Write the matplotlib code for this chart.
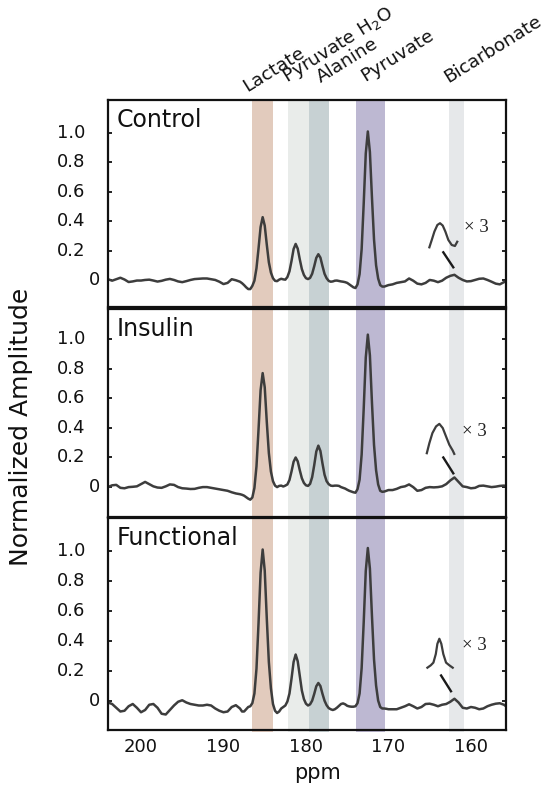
import numpy as np
import matplotlib
matplotlib.use('Agg')
import matplotlib.pyplot as plt

# chemical shift grid (ppm), finer sampling around the metabolite peaks
ppm_left = np.linspace(204.0, 188.5, 32)
ppm_mid = np.linspace(188.0, 170.0, 73)
ppm_right = np.linspace(169.5, 155.5, 29)
ppm = np.concatenate([ppm_left, ppm_mid, ppm_right])

# normalized amplitudes, one set per panel
control_left = [0.005, -0.005, 0.005, 0.015, 0.003, -0.014, -0.010, -0.004,
                -0.004, 0.000, 0.002, -0.004, -0.011, -0.006, 0.002, 0.007,
                0.000, -0.010, -0.015, -0.008, 0.000, 0.006, 0.008, 0.010,
                0.010, 0.005, 0.000, -0.012, -0.028, -0.020, 0.005, -0.002]
control_mid = [-0.012, -0.022, -0.035, -0.050, -0.062, -0.062, -0.040, -0.005,
               0.080, 0.215, 0.360, 0.427, 0.370, 0.240, 0.120, 0.050,
               0.012, -0.006, -0.008, 0.002, 0.008, 0.004, 0.002, 0.020,
               0.059, 0.130, 0.210, 0.245, 0.213, 0.140, 0.074, 0.034,
               0.012, 0.006, 0.014, 0.042, 0.093, 0.150, 0.175, 0.152,
               0.095, 0.042, 0.012, -0.006, -0.012, -0.010, -0.005, -0.004,
               -0.007, -0.010, -0.012, -0.015, -0.020, -0.030, -0.040, -0.050,
               -0.055, -0.030, 0.040, 0.210, 0.520, 0.860, 1.010, 0.870,
               0.560, 0.275, 0.100, 0.010, -0.035, -0.045, -0.045, -0.040,
               -0.035]
control_right = [-0.030, -0.020, -0.015, -0.010, 0.010, -0.005, -0.025, -0.030,
                 -0.020, 0.000, -0.005, -0.015, -0.005, 0.015, 0.028, 0.035,
                 0.015, 0.000, -0.010, -0.008, 0.000, 0.008, 0.010, 0.000,
                 -0.012, -0.025, -0.030, -0.015, -0.005]

insulin_left = [0.000, 0.012, 0.015, -0.005, -0.008, 0.000, 0.002, 0.005,
                0.020, 0.035, 0.020, 0.005, -0.003, -0.005, 0.005, 0.018,
                0.015, 0.000, -0.008, -0.010, -0.013, -0.012, -0.005, 0.000,
                0.000, -0.005, -0.010, -0.015, -0.020, -0.025, -0.035, -0.043]
insulin_mid = [-0.048, -0.052, -0.058, -0.068, -0.078, -0.085, -0.070, -0.006,
               0.140, 0.390, 0.655, 0.770, 0.675, 0.440, 0.230, 0.105,
               0.040, 0.010, 0.000, 0.008, 0.010, 0.004, 0.010, 0.018,
               0.048, 0.106, 0.171, 0.200, 0.174, 0.114, 0.060, 0.028,
               0.012, 0.008, 0.022, 0.067, 0.148, 0.240, 0.280, 0.244,
               0.160, 0.084, 0.040, 0.020, 0.010, 0.008, 0.010, 0.010,
               0.008, 0.000, -0.005, -0.010, -0.018, -0.025, -0.030, -0.035,
               -0.038, -0.014, 0.050, 0.220, 0.530, 0.875, 1.030, 0.890,
               0.570, 0.285, 0.114, 0.018, -0.025, -0.032, -0.030, -0.025,
               -0.020]
insulin_right = [-0.020, -0.012, 0.000, 0.005, 0.018, 0.000, -0.025, -0.020,
                 -0.005, 0.000, -0.002, 0.000, 0.005, 0.020, 0.045, 0.065,
                 0.035, 0.005, 0.000, -0.008, -0.005, 0.008, 0.010, 0.005,
                 0.000, 0.003, 0.008, 0.010, 0.005]

functional_left = [-0.010, -0.020, -0.045, -0.070, -0.065, -0.035, -0.020, -0.045,
                   -0.075, -0.060, -0.025, -0.020, -0.045, -0.085, -0.090, -0.060,
                   -0.030, -0.005, 0.005, -0.010, -0.020, -0.025, -0.030, -0.030,
                   -0.025, -0.030, -0.050, -0.065, -0.075, -0.070, -0.040, -0.028]
functional_mid = [-0.050, -0.070, -0.070, -0.055, -0.040, -0.035, -0.014, 0.050,
                  0.215, 0.520, 0.855, 1.010, 0.870, 0.550, 0.260, 0.085,
                  -0.020, -0.065, -0.080, -0.070, -0.050, -0.040, -0.030, -0.003,
                  0.050, 0.150, 0.260, 0.310, 0.265, 0.165, 0.070, 0.013,
                  -0.018, -0.030, -0.022, 0.002, 0.047, 0.098, 0.120, 0.100,
                  0.048, 0.002, -0.028, -0.047, -0.055, -0.060, -0.055, -0.045,
                  -0.032, -0.020, -0.016, -0.022, -0.032, -0.036, -0.038, -0.038,
                  -0.035, -0.014, 0.050, 0.220, 0.525, 0.867, 1.020, 0.883,
                  0.566, 0.277, 0.103, 0.003, -0.040, -0.050, -0.050, -0.052,
                  -0.055]
functional_right = [-0.055, -0.055, -0.045, -0.035, -0.022, -0.035, -0.050, -0.040,
                    -0.020, -0.018, -0.025, -0.035, -0.025, -0.020, -0.005, 0.015,
                    -0.010, -0.045, -0.050, -0.040, -0.045, -0.055, -0.050, -0.035,
                    -0.025, -0.018, -0.015, -0.025, -0.045]

# x3 magnified bicarbonate insets
control_inset_ppm = [165.04, 164.75, 164.43, 164.07, 163.75, 163.42, 163.10, 162.74, 162.33, 161.94, 161.66]
control_inset_amp = [0.222, 0.272, 0.329, 0.374, 0.386, 0.370, 0.329, 0.272, 0.238, 0.231, 0.260]
insulin_inset_ppm = [165.35, 165.04, 164.67, 164.23, 163.83, 163.42, 163.02, 162.62, 162.21, 162.02]
insulin_inset_amp = [0.229, 0.297, 0.365, 0.410, 0.427, 0.399, 0.342, 0.286, 0.247, 0.224]
functional_inset_ppm = [165.28, 164.87, 164.55, 164.26, 164.07, 163.83, 163.59, 163.35, 163.02, 162.62, 162.21]
functional_inset_amp = [0.222, 0.238, 0.256, 0.313, 0.381, 0.415, 0.381, 0.313, 0.256, 0.238, 0.222]
# pointer strokes from inset to the bicarbonate peak
control_ptr_ppm, control_ptr_amp = [163.35, 162.14], [0.188, 0.086]
insulin_ptr_ppm, insulin_ptr_amp = [163.35, 162.14], [0.200, 0.093]
functional_ptr_ppm, functional_ptr_amp = [163.62, 162.42], [0.170, 0.065]

panel_names = ["Control", "Insulin", "Functional"]
metabolites = ["Lactate", "Pyruvate H$_2$O", "Alanine", "Pyruvate", "Bicarbonate"]
band_hi = [186.55, 182.21, 179.64, 173.88, 162.72]
band_lo = [184.05, 179.64, 177.18, 170.38, 160.85]
band_colors = ['#e2cbbd', '#e9ecea', '#c7d1d3', '#bdb8d2', '#e6e8ea']
ytick_vals = [0, 0.2, 0.4, 0.6, 0.8, 1.0]
ytick_labels = ['0', '0.2', '0.4', '0.6', '0.8', '1.0']
xtick_vals = [200, 190, 180, 170, 160]

spectra = [np.concatenate([control_left, control_mid, control_right]),
           np.concatenate([insulin_left, insulin_mid, insulin_right]),
           np.concatenate([functional_left, functional_mid, functional_right])]
insets = [(control_inset_ppm, control_inset_amp), (insulin_inset_ppm, insulin_inset_amp),
          (functional_inset_ppm, functional_inset_amp)]
pointers = [(control_ptr_ppm, control_ptr_amp), (insulin_ptr_ppm, insulin_ptr_amp),
            (functional_ptr_ppm, functional_ptr_amp)]

W, H = 546, 787
fig = plt.figure(figsize=(W / 100, H / 100), dpi=100)

# panel pixel extents (top, bottom), y-limits and the x3 label spot
panel_px = [(100, 307.3), (309, 516.7), (518, 729.5)]
ylims = [(-0.186, 1.224), (-0.2, 1.203), (-0.19, 1.22)]
x3_pos = [(159.4, 0.36), (159.64, 0.378), (159.58, 0.37)]
line_col = '#3d3d3d'
text_col = '#111111'

for i, (top, bot) in enumerate(panel_px):
    ax = fig.add_axes([108 / W, 1 - bot / H, 398 / W, (bot - top) / H])
    # bands run a little past the bottom frame in the last panel
    ymin = -0.012 if i == 2 else 0
    for hi, lo, c in zip(band_hi, band_lo, band_colors):
        ax.axvspan(lo, hi, ymin=ymin, color=c, lw=0, zorder=0, clip_on=False)
    ax.plot(ppm, spectra[i], color=line_col, lw=1.8, solid_joinstyle='round', zorder=3)
    ax.plot(insets[i][0], insets[i][1], color=line_col, lw=1.6, solid_joinstyle='round', zorder=3)
    ax.plot(pointers[i][0], pointers[i][1], color='#1a1a1a', lw=1.7, zorder=3)
    ax.text(x3_pos[i][0], x3_pos[i][1], '\u00d7 3', family='Liberation Serif', fontsize=13.5,
            ha='center', va='center', color='#222222')
    ax.annotate(panel_names[i], xy=(0, 1), xycoords='axes fraction', xytext=(6, -19.2),
                textcoords='offset points', fontsize=17, ha='left', va='baseline', color=text_col)

    ax.set_xlim(204.0, 155.75)
    ax.set_ylim(*ylims[i])
    # y labels: "0" sits close to the axis, the others further out
    ax.set_yticks(ytick_vals)
    ax.tick_params(axis='y', direction='in', length=3, width=1.3, left=True, right=True,
                   labelleft=False, colors=text_col)
    ytrans = ax.get_yaxis_transform()
    for v, lab in zip(ytick_vals, ytick_labels):
        xoff = -0.020 if lab == '0' else -0.058
        ax.text(xoff, v, lab, transform=ytrans, ha='right', va='center', fontsize=13, color=text_col)
    ax.set_xticks(xtick_vals)
    ax.tick_params(axis='x', length=0, pad=6, labelsize=13, labelbottom=(i == 2), colors=text_col)
    for s in ax.spines.values():
        s.set_linewidth(1.6)
        s.set_color(text_col)
        s.set_zorder(4)

# metabolite labels above the top panel
label_px = [(246.7, 91.7), (286.7, 82.7), (320.7, 83.3), (365, 81.7), (448.3, 82.7)]
for name, (px, py) in zip(metabolites, label_px):
    fig.text(px / W, 1 - py / H, name, rotation=32, rotation_mode='anchor',
             ha='left', va='baseline', fontsize=13.3, color=text_col)

fig.text(317 / W, 1 - 773 / H, 'ppm', ha='center', va='center', fontsize=15, color=text_col)
fig.text(21 / W, 1 - 427 / H, 'Normalized Amplitude', rotation=90, ha='center', va='center',
         fontsize=18, color=text_col)

fig.savefig('out.png', dpi=100)
